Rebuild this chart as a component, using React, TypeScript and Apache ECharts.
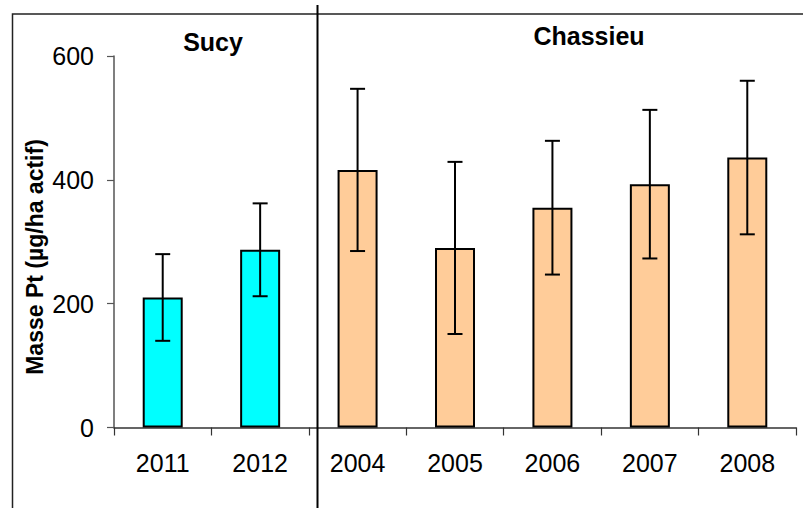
import React, { useEffect, useRef } from "react";
import * as echarts from "echarts";

const categories = ["2011", "2012", "2004", "2005", "2006", "2007", "2008"];
const sites = ["Sucy", "Sucy", "Chassieu", "Chassieu", "Chassieu", "Chassieu", "Chassieu"];
const meanValues = [210, 287, 416, 290, 355, 393, 436];
const errorValues = [70, 75, 131, 139, 108, 120, 124];
const yTicks = [0, 200, 400, 600];
const siteColors: Record<string, string> = { Sucy: "#00FFFF", Chassieu: "#FFCC99" };

const FONT = "'Liberation Sans', Arial, sans-serif";

export default function App() {
  const ref = useRef<HTMLDivElement>(null);
  useEffect(() => {
    document.body.style.margin = "0";
    if (!ref.current) return;
    const chart = echarts.init(ref.current, undefined, { renderer: "svg" });
    const barData = meanValues.map((v, i) => ({
      value: v,
      itemStyle: { color: siteColors[sites[i]] },
    }));
    const errData = meanValues.map((v, i) => [i, v - errorValues[i], v + errorValues[i]]);
    chart.setOption({
      animation: false,
      backgroundColor: "#ffffff",
      grid: { left: 114, top: 56, width: 682, height: 371.5 },
      xAxis: {
        type: "category",
        data: categories,
        axisLine: { lineStyle: { color: "#333", width: 1.5 } },
        axisTick: { show: true, length: 8, lineStyle: { color: "#333", width: 1.2 } },
        axisLabel: { fontSize: 25, color: "#000", fontFamily: FONT, margin: 23 },
      },
      yAxis: {
        type: "value",
        min: yTicks[0],
        max: yTicks[yTicks.length - 1],
        interval: 200,
        splitLine: { show: false },
        axisLine: { show: true, lineStyle: { color: "#555", width: 1.5 } },
        axisTick: { show: true, length: 7, lineStyle: { color: "#555", width: 1.2 } },
        axisLabel: { fontSize: 25, color: "#000", fontFamily: FONT, margin: 20 },
      },
      series: [
        {
          type: "bar",
          data: barData,
          barWidth: 40,
          itemStyle: { borderColor: "#000", borderWidth: 2 },
        },
        {
          type: "custom",
          data: errData,
          z: 5,
          renderItem: (params: any, api: any) => {
            const x = api.value(0);
            const lo = api.coord([x, api.value(1)]);
            const hi = api.coord([x, api.value(2)]);
            const half = 7.5;
            const style = { stroke: "#000", lineWidth: 2 };
            return {
              type: "group",
              children: [
                { type: "line", shape: { x1: hi[0], y1: hi[1], x2: lo[0], y2: lo[1] }, style },
                { type: "line", shape: { x1: hi[0] - half, y1: hi[1], x2: hi[0] + half, y2: hi[1] }, style },
                { type: "line", shape: { x1: lo[0] - half, y1: lo[1], x2: lo[0] + half, y2: lo[1] }, style },
              ],
            };
          },
        },
      ],
      graphic: [
        {
          type: "rect",
          shape: { x: 12.5, y: 14, width: 800, height: 520 },
          style: { fill: "none", stroke: "#222", lineWidth: 1.5 },
          silent: true,
        },
        {
          type: "line",
          shape: { x1: 317.5, y1: 5, x2: 317.5, y2: 508 },
          style: { stroke: "#000", lineWidth: 2 },
          silent: true,
          z: 10,
        },
        {
          type: "text",
          x: 213,
          y: 42,
          style: {
            text: "Sucy",
            font: `bold 25px ${FONT}`,
            fill: "#000",
            textAlign: "center",
            textVerticalAlign: "middle",
          },
        },
        {
          type: "text",
          x: 589,
          y: 36,
          style: {
            text: "Chassieu",
            font: `bold 25px ${FONT}`,
            fill: "#000",
            textAlign: "center",
            textVerticalAlign: "middle",
          },
        },
        {
          type: "text",
          x: 35,
          y: 257,
          rotation: Math.PI / 2,
          style: {
            text: "Masse Pt (µg/ha actif)",
            font: `bold 23px ${FONT}`,
            fill: "#000",
            textAlign: "center",
            textVerticalAlign: "middle",
          },
        },
      ],
    });
    return () => chart.dispose();
  }, []);
  return <div ref={ref} style={{ width: 803, height: 508 }} />;
}
